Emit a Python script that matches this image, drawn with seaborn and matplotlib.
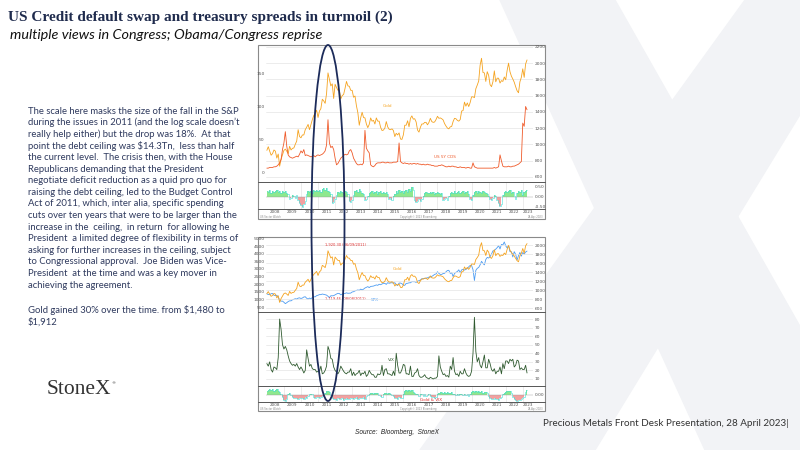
import numpy as np
import pandas as pd
import seaborn as sns
import matplotlib.pyplot as plt
from matplotlib.patches import Rectangle, Ellipse, Polygon
from matplotlib.lines import Line2D

sns.set_theme(style="white")
plt.rcParams['font.family'] = ['DejaVu Sans']

# ---- data (monthly, Jan 2008 .. Apr 2023) ----
months = pd.date_range("2008-01-01", "2023-04-01", freq="MS")

gold = [925, 970, 915, 865, 885, 930, 915, 830, 880, 730, 815, 870,
        925, 940, 915, 885, 975, 930, 950, 955, 1000, 1040, 1180, 1095,
        1080, 1115, 1115, 1180, 1210, 1245, 1180, 1245, 1305, 1355, 1385, 1420,
        1330, 1410, 1440, 1555, 1535, 1505, 1625, 1880, 1800, 1720, 1745, 1565,
        1740, 1700, 1665, 1665, 1560, 1600, 1615, 1690, 1775, 1720, 1715, 1665,
        1665, 1580, 1595, 1475, 1390, 1235, 1325, 1395, 1330, 1325, 1250, 1205,
        1245, 1325, 1285, 1295, 1250, 1325, 1285, 1285, 1210, 1170, 1175, 1200,
        1280, 1215, 1185, 1180, 1190, 1170, 1095, 1135, 1115, 1140, 1065, 1060,
        1115, 1235, 1235, 1290, 1215, 1320, 1350, 1310, 1315, 1275, 1175, 1150,
        1210, 1250, 1250, 1270, 1270, 1240, 1270, 1320, 1280, 1270, 1275, 1305,
        1345, 1320, 1325, 1315, 1300, 1255, 1225, 1200, 1190, 1215, 1220, 1280,
        1320, 1315, 1295, 1285, 1305, 1410, 1415, 1520, 1470, 1510, 1465, 1515,
        1585, 1585, 1575, 1685, 1730, 1780, 1975, 2060, 1885, 1880, 1775, 1895,
        1850, 1735, 1710, 1770, 1905, 1770, 1815, 1815, 1755, 1785, 1775, 1830,
        1795, 1910, 2000, 1895, 1840, 1805, 1765, 1710, 1660, 1635, 1770, 1825,
        1930, 1825, 1990, 2040]

cds = [7, 7, 8, 8, 8, 9, 9, 10, 12, 15, 20, 35,
       45, 62, 40, 27, 24, 23, 22, 23, 24, 25, 24, 28,
       33, 30, 35, 26, 27, 26, 25, 24, 25, 26, 24, 26,
       27, 26, 27, 28, 30, 33, 42, 80, 45, 38, 40, 35,
       22, 12, 14, 18, 22, 24, 26, 28, 27, 28, 33, 35,
       30, 22, 18, 14, 12, 12, 13, 12, 15, 64, 37, 33,
       30, 12, 10, 9, 11, 14, 15, 15, 15, 16, 16, 15,
       15, 16, 15, 15, 15, 16, 16, 16, 17, 45, 17, 15,
       14, 15, 14, 14, 13, 14, 13, 14, 14, 13, 14, 13,
       13, 12, 13, 12, 12, 13, 12, 12, 11, 11, 10, 10,
       10, 11, 11, 12, 11, 10, 9, 9, 10, 9, 10, 10,
       9, 9, 8, 8, 9, 8, 8, 8, 7, 8, 8, 7,
       7, 15, 9, 8, 7, 7, 7, 7, 7, 7, 7, 7,
       7, 7, 7, 7, 8, 7, 8, 9, 27, 18, 10, 9,
       9, 9, 10, 9, 9, 10, 10, 11, 12, 13, 15, 17,
       75, 70, 100, 95]

spx = [1378, 1330, 1323, 1386, 1400, 1280, 1267, 1283, 1166, 969, 896, 903,
       826, 735, 798, 873, 919, 919, 987, 1021, 1057, 1036, 1096, 1115,
       1074, 1104, 1169, 1187, 1089, 1031, 1102, 1049, 1141, 1183, 1181, 1258,
       1286, 1327, 1326, 1364, 1345, 1321, 1292, 1219, 1131, 1253, 1247, 1258,
       1312, 1366, 1408, 1398, 1310, 1362, 1379, 1406, 1441, 1412, 1416, 1426,
       1498, 1515, 1569, 1598, 1631, 1606, 1686, 1633, 1682, 1757, 1806, 1848,
       1783, 1859, 1872, 1884, 1924, 1960, 1931, 2003, 1972, 2018, 2068, 2059,
       1995, 2105, 2068, 2086, 2107, 2063, 2104, 1972, 1920, 2079, 2080, 2044,
       1940, 1932, 2060, 2065, 2097, 2099, 2174, 2171, 2168, 2126, 2199, 2239,
       2279, 2364, 2363, 2384, 2412, 2423, 2470, 2472, 2519, 2575, 2648, 2674,
       2824, 2714, 2641, 2648, 2705, 2718, 2816, 2902, 2914, 2712, 2760, 2507,
       2704, 2784, 2834, 2946, 2752, 2942, 2980, 2926, 2977, 3038, 3141, 3231,
       3226, 2954, 2250, 2912, 3044, 3100, 3271, 3500, 3363, 3270, 3622, 3756,
       3714, 3811, 3973, 4181, 4204, 4298, 4395, 4523, 4308, 4605, 4567, 4766,
       4516, 4374, 4530, 4132, 4132, 3785, 4130, 3955, 3586, 3872, 4080, 3840,
       4077, 3970, 4109, 4169]

vix = [28, 25, 30, 21, 18, 24, 23, 21, 35, 80, 68, 50,
       45, 48, 44, 37, 31, 28, 26, 27, 25, 28, 24, 21,
       24, 21, 17, 20, 44, 34, 25, 27, 22, 21, 21, 18,
       19, 19, 25, 16, 17, 20, 25, 48, 43, 34, 33, 24,
       20, 18, 16, 19, 25, 22, 19, 17, 16, 18, 18, 22,
       14, 18, 14, 16, 17, 20, 14, 17, 16, 19, 13, 15,
       20, 17, 15, 15, 12, 12, 16, 15, 16, 26, 14, 21,
       22, 16, 16, 15, 14, 19, 14, 40, 26, 17, 17, 21,
       27, 26, 16, 16, 15, 25, 13, 13, 17, 18, 22, 14,
       12, 12, 13, 15, 12, 11, 10, 12, 11, 10, 11, 11,
       13, 37, 24, 19, 15, 16, 13, 14, 12, 25, 21, 35,
       19, 15, 16, 13, 19, 16, 16, 22, 17, 14, 13, 14,
       19, 40, 82, 42, 30, 35, 26, 23, 30, 38, 23, 23,
       33, 28, 21, 19, 22, 16, 19, 19, 24, 16, 28, 22,
       31, 31, 28, 33, 31, 33, 24, 26, 32, 31, 21, 23,
       21, 21, 26, 17]

osc_top = [.30, .25, .35, .20, .30, .25, .30, .35, .25, .30, .20, .30,
           .25, .30, .20, .15, -.10, -.05, .10, .05, -.05, .10, -.15, -.30,
           -.40, -.50, -.35, -.20, .15, .30, .25, .30, .20, .35, .30, .35,
           .30, .35, .25, .40, .45, .35, .45, .30, .25, .15, -.30, -.25,
           -.10, .10, .25, .20, .30, .25, .20, .30, .25, .15, -.20, -.25,
           -.15, .10, .30, .35, .25, .40, .30, .20, .15, -.15, -.10, .05,
           .20, .25, .30, .20, .25, .30, .15, .25, .30, .20, .25, .20,
           .25, .15, -.10, -.05, -.15, .05, .15, .30, .20, .35, .25, .30,
           .20, .30, .35, .25, .40, .30, .50, .35, -.15, -.25, -.20, -.10,
           -.20, -.10, .05, .20, .25, .20, .20, .25, .20, .25, .15, .20,
           .25, .20, .15, .20, -.15, -.10, -.05, -.15, .05, .20, .25, .20,
           .30, .20, .25, .30, .20, .25, .30, .20, .25, .30, .15, -.10,
           -.15, .10, .25, .30, .20, .30, .25, .20, .30, .25, .20, .15,
           .05, -.10, -.15, -.05, .10, .05, -.15, -.30, -.45, -.35, .10, .25,
           .30, .25, .30, .35, .20, .25, .05, -.10, .20, .30, .25, .35,
           .10, .25, .30, .35]

osc_low = [.40, .55, .60, .50, .65, .45, .55, .60, .40, .30, .10, -.20,
           -.50, -.60, -.40, .15, .20, .05, -.20, -.30, -.25, -.30, -.35, -.25,
           -.30, -.25, -.35, -.20, -.30, -.10, .10, .15, .10, -.15, -.25, -.20,
           -.15, -.25, -.20, -.10, -.05, .20, .45, .40, .30, .05, -.30, -.40,
           -.35, -.45, -.30, -.40, -.35, -.30, -.45, -.35, -.30, -.40, -.35, -.30,
           -.25, -.40, -.30, -.20, -.35, -.30, -.25, -.30, -.20, -.35, -.10, .05,
           .15, .20, .25, .15, .20, .25, .20, .05, -.10, -.15, .10, .20,
           .25, .15, .20, .10, .05, -.10, -.25, -.30, -.35, -.20, -.25, -.30,
           .10, .40, .55, .45, .50, .40, .55, .35, .20, .10, .15, -.10,
           .10, .15, -.05, .10, -.10, .05, .15, -.05, -.15, -.20, -.25, -.20,
           .10, .25, .30, .35, .25, .30, .20, .35, .25, .20, .30, .15,
           .10, .05, .10, .05, .10, .15, .05, .10, .05, .10, -.05, .10,
           .30, .45, .35, .40, .30, .45, .35, .40, .25, .30, .35, .20,
           -.10, -.30, -.40, -.35, -.25, -.40, -.35, -.45, -.30, -.20, .10, .20,
           .35, .45, .40, .45, .20, -.20, -.40, -.50, -.55, -.45, -.50, -.40,
           -.30, -.20, .30, .50]

years = list(range(2008, 2024))

para = [
    "The scale here masks the size of the fall in the S&P",
    "during the issues in 2011 (and the log scale doesn\u2019t",
    "really help either) but the drop was 18%.  At that",
    "point the debt ceiling was \\$14.3Tn,  less than half",
    "the current level.  The crisis then, with the House",
    "Republicans demanding that the President",
    "negotiate deficit reduction as a quid pro quo for",
    "raising the debt ceiling, led to the Budget Control",
    "Act of 2011, which, inter alia, specific spending",
    "cuts over ten years that were to be larger than the",
    "increase in the  ceiling,  in return  for allowing he",
    "President  a limited degree of flexibility in terms of",
    "asking for further increases in the ceiling, subject",
    "to Congressional approval.  Joe Biden was Vice-",
    "President  at the time and was a key mover in",
    "achieving the agreement.",
]
gold_note = ["Gold gained 30% over the time. from \\$1,480 to", "\\$1,912"]

# ---- figure ----
W, H = 800, 450
fig = plt.figure(figsize=(8, 4.5), dpi=100)
fig.patch.set_facecolor("white")


def box(x0, y0, x1, y1):
    return [x0 / W, 1 - y1 / H, (x1 - x0) / W, (y1 - y0) / H]


def P(x, y):
    return (x / W, 1 - y / H)


# watermark X
wm = "#f2f3f6"
fig.patches.append(Polygon([P(500, 0), P(615, 0), P(870, 450), P(705, 450)],
                           closed=True, transform=fig.transFigure, color=wm, zorder=-3))
fig.patches.append(Polygon([P(745, 0), P(870, 0), P(595, 450), P(420, 450)],
                           closed=True, transform=fig.transFigure, color=wm, zorder=-3))

# chart frames
for (x0, y0, x1, y1) in [(258, 45, 545, 219), (258, 237, 545, 411)]:
    fig.patches.append(Rectangle(P(x0, y1), (x1 - x0) / W, (y1 - y0) / H,
                                 transform=fig.transFigure, facecolor="white",
                                 edgecolor="#8a8a8a", lw=0.8, zorder=-2))
for (y, x0, x1) in [(182, 258, 545), (209, 258, 545), (312, 258, 545),
                    (386, 258, 545), (402, 258, 545)]:
    fig.lines.append(Line2D([x0 / W, x1 / W], [1 - y / H, 1 - y / H],
                            transform=fig.transFigure, color="#555555", lw=0.7, zorder=5))

t = np.asarray(months.year + (months.month - 1) / 12.0, dtype=float)
XLIM = (2007.95, 2023.6)
tick_kw = dict(labelsize=3.2, colors="#555555", length=0, pad=1)
GOLD_C, CDS_C, SPX_C, VIX_C = "#f5a31f", "#ef5a2a", "#4d9cf2", "#2f5a2f"


def main_style(ax):
    ax.set_xlim(*XLIM)
    ax.set_xticks([])
    ax.set_facecolor("none")
    for s in ax.spines.values():
        s.set_visible(False)
    ax.set_xlabel("")
    ax.set_ylabel("")


def osc_panel(ax, vals, ylim, yt, labs):
    v = np.asarray(vals)
    ax.fill_between(t, v, 0, where=v >= 0, color="#8ee88e", lw=0, step="mid")
    ax.fill_between(t, v, 0, where=v < 0, color="#f2a0a0", lw=0, step="mid")
    sns.lineplot(x=t, y=v, ax=ax, color="#3fe0d8", lw=0.4, drawstyle="steps-mid")
    ax.axhline(0, color="#9a9a9a", lw=0.3)
    ax.set_ylim(*ylim)
    ax.set_xlim(*XLIM)
    ax.set_xlabel("")
    ax.set_ylabel("")
    ax.yaxis.tick_right()
    ax.set_yticks(yt)
    ax.set_yticklabels(labs)
    ax.set_xticks(years[1:])
    ax.set_xticklabels([])
    ax.set_xticks([y + 0.5 for y in years[:-1]] + [2023.3], minor=True)
    ax.set_xticklabels([str(y) for y in years], minor=True)
    ax.tick_params(axis="x", which="major", length=5.0, width=0.4, color="#8a8a8a",
                   direction="out")
    ax.tick_params(axis="x", which="minor", length=0, labelsize=3, colors="#555555", pad=1.0)
    ax.tick_params(axis="y", **tick_kw)
    ax.grid(axis="x", which="major", color="#dddddd", lw=0.4)
    ax.set_facecolor("none")
    for s in ax.spines.values():
        s.set_visible(False)


# ---- top chart: gold vs US CDS ----
ax1 = fig.add_axes(box(266, 45, 533, 182))
ax1r = ax1.twinx()
sns.lineplot(x=t, y=gold, ax=ax1r, color=GOLD_C, lw=0.6)
sns.lineplot(x=t, y=cds, ax=ax1, color=CDS_C, lw=0.6)
ax1.set_ylim(-13.9, 192.7)
ax1.set_yticks([0, 50, 100, 150])
ax1r.set_ylim(535, 2224)
ax1r.set_yticks(range(600, 2201, 200))
ax1r.grid(axis="y", color="#e4e4e4", lw=0.5)
for a in (ax1, ax1r):
    main_style(a)
    a.tick_params(axis="y", **tick_kw)
ax1.set_zorder(ax1r.get_zorder() + 1)
ax1r.text(2014.8, 1475, "Gold", fontsize=3, color=GOLD_C, va="center")
ax1.text(2017.8, 23.5, "US 5Y CDS", fontsize=3, color=CDS_C, va="center")

ax2 = fig.add_axes(box(266, 182, 533, 209))
osc_panel(ax2, osc_top, (-0.615, 0.735), [0.5, 0.0, -0.5], ["0.50", "0.00", "-0.50"])

# ---- lower chart: SPX vs gold, VIX ----
ax3 = fig.add_axes(box(266, 237, 533, 312))
ax3r = ax3.twinx()
sns.lineplot(x=t, y=spx, ax=ax3, color=SPX_C, lw=0.6)
sns.lineplot(x=t, y=gold, ax=ax3r, color=GOLD_C, lw=0.6)
ax3.set_ylim(190, 5090)
ax3.set_yticks(range(500, 5001, 500))
ax3r.set_ylim(516, 2187)
ax3r.set_yticks(range(600, 2001, 200))
ax3r.grid(axis="y", color="#e4e4e4", lw=0.5)
for a in (ax3, ax3r):
    main_style(a)
    a.tick_params(axis="y", **tick_kw)
ax3r.text(2011.4, 2000, "1,920.30 (06/09/2011)", fontsize=2.6, color="#e03030", va="center")
ax3.text(2011.4, 1050, "1,119.46 (08/08/2011)", fontsize=2.6, color="#e03030", va="center")
ax3r.text(2015.4, 1465, "Gold", fontsize=3, color=GOLD_C, va="center")
ax3.text(2014.1, 1000, "SPX", fontsize=3, color=SPX_C, va="center")

ax4 = fig.add_axes(box(266, 312, 533, 386))
sns.lineplot(x=t, y=vix, ax=ax4, color=VIX_C, lw=0.6)
ax4.set_ylim(1.8, 88.2)
main_style(ax4)
ax4.yaxis.tick_right()
ax4.set_yticks(range(10, 81, 10))
ax4.tick_params(axis="y", **tick_kw)
ax4.grid(axis="y", color="#e4e4e4", lw=0.5)
ax4.text(2015.1, 32, "VIX", fontsize=3, color=VIX_C, va="center")

ax5 = fig.add_axes(box(266, 386, 533, 402))
osc_panel(ax5, osc_low, (-0.7, 0.9), [0.0], ["0.00"])
ax5.text(2017.0, -0.5, "Gold & VIX", fontsize=3, color="#e03030", va="center")

# tiny source lines under the charts
for y in (217.0, 409.3):
    fig.text(260 / W, 1 - y / H, "US Sector Watch", fontsize=1.8,
             color="#888888", va="center")
    fig.text(400 / W, 1 - y / H, "Copyright\u00a9 2023 Bloomberg", fontsize=1.8,
             color="#888888", va="center")
    fig.text(543 / W, 1 - y / H, "28-Apr-2023", fontsize=1.8, color="#888888",
             va="center", ha="right")

# ellipse highlighting 2011
fig.patches.append(Ellipse(P(328, 223), 33 / W, 356 / H, transform=fig.transFigure,
                           fill=False, edgecolor="#1c2b5a", lw=1.3, zorder=10))

# ---- slide text ----
fig.text(8 / W, 1 - 17 / H, "US Credit default swap and treasury spreads in turmoil (2)",
         family=["Liberation Serif", "DejaVu Serif"], weight="bold", fontsize=11,
         color="#1f2b4d", va="center")
fig.text(10 / W, 1 - 35 / H, "multiple views in Congress; Obama/Congress reprise",
         family=["Lato", "DejaVu Sans"], style="italic", fontsize=10.4, color="#111111",
         va="center")
for i, line in enumerate(para):
    fig.text(28 / W, 1 - (111 + i * 11.6) / H, line, family=["Lato", "DejaVu Sans"],
             fontsize=6.8, color="#2f3a5e", va="center")
for i, line in enumerate(gold_note):
    fig.text(28 / W, 1 - (310 + i * 12) / H, line, family=["Lato", "DejaVu Sans"],
             fontsize=6.8, color="#2f3a5e", va="center")
fig.text(47 / W, 1 - 390 / H, "StoneX", family=["Liberation Serif", "DejaVu Serif"],
         fontsize=15.5, color="#333333", va="center")
fig.text(111 / W, 1 - 383 / H, "\u00ae", fontsize=3, color="#333333", va="center")
fig.text(355 / W, 1 - 432 / H, "Source:  Bloomberg,  StoneX",
         family=["Liberation Sans", "DejaVu Sans"], style="italic", fontsize=4.7,
         color="#222222", va="center")
fig.text(543 / W, 1 - 423 / H, "Precious Metals Front Desk Presentation, 28 April 2023|",
         family=["Lato", "DejaVu Sans"], fontsize=7.1, color="#333333", va="center")

fig.savefig("out.png", dpi=100, facecolor="white")
